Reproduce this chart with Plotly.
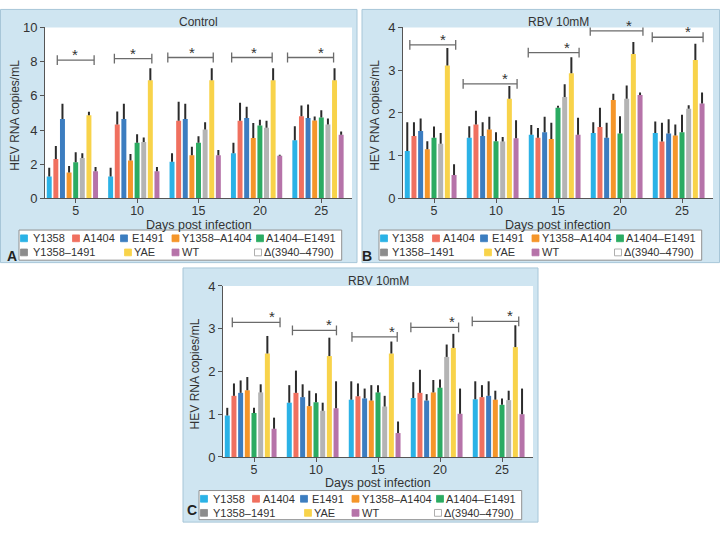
import plotly.graph_objects as go

# ---------------- data ----------------
days = ["5", "10", "15", "20", "25"]
series_names = ["Y1358", "A1404", "E1491", "Y1358–A1404", "A1404–E1491",
                "Y1358–1491", "YAE", "WT", "Δ(3940–4790)"]
series_colors = ["#2bb2e6", "#f0705f", "#3c7dc0", "#f5962a", "#2bab62",
                 "#b4b4b4", "#f8d34a", "#b673a9", "#ffffff"]
legend_marker_colors = ["#2bb2e6", "#f0705f", "#3c7dc0", "#f5962a", "#2bab62",
                        "#8c8c8c", "#f8d34a", "#b673a9", "#ffffff"]

# Panel A: Control
A_Y1358 = [1.29, 1.29, 2.14, 2.65, 3.41]
A_Y1358_err = [0.50, 0.50, 0.50, 0.60, 0.81]
A_A1404 = [2.31, 4.32, 4.55, 4.55, 4.81]
A_A1404_err = [0.76, 0.77, 1.10, 1.04, 0.63]
A_E1491 = [4.64, 4.64, 4.64, 4.70, 4.70]
A_E1491_err = [0.90, 0.90, 0.90, 0.66, 0.79]
A_Y1358_A1404 = [1.52, 2.22, 2.52, 3.54, 4.56]
A_Y1358_A1404_err = [0.38, 0.38, 0.50, 0.87, 0.23]
A_A1404_E1491 = [2.12, 3.26, 3.26, 4.26, 4.73]
A_A1404_E1491_err = [0.58, 0.50, 0.38, 0.34, 0.42]
A_Y1358_1491 = [2.37, 3.30, 4.03, 4.13, 4.32]
A_Y1358_1491_err = [0.28, 0.27, 0.42, 0.42, 0.36]
A_YAE = [4.87, 6.91, 6.91, 6.91, 6.91]
A_YAE_err = [0.20, 0.70, 0.70, 0.70, 0.70]
A_WT = [1.59, 1.59, 2.52, 2.50, 3.73]
A_WT_err = [0.25, 0.25, 0.32, 0.06, 0.19]
A_DELTA = [None, None, None, None, None]
A_sig_y = [8.09, 8.18, 8.24, 8.24, 8.24]
A_sig_left = [-0.30, -0.37, -0.50, -0.46, -0.55]
A_sig_right = [0.30, 0.24, 0.24, 0.20, 0.20]
A_sig_star = [-0.01, -0.07, -0.10, -0.10, 0.00]

# Panel B: RBV 10mM
B_Y1358 = [1.11, 1.42, 1.49, 1.53, 1.53]
B_Y1358_err = [0.67, 0.27, 0.23, 0.25, 0.27]
B_A1404 = [1.46, 1.73, 1.42, 1.67, 1.33]
B_A1404_err = [0.32, 0.32, 0.23, 0.45, 0.44]
B_E1491 = [1.58, 1.46, 1.55, 1.42, 1.52]
B_E1491_err = [0.29, 0.32, 0.36, 0.35, 0.33]
B_Y1358_A1404 = [1.15, 1.61, 1.39, 2.30, 1.47]
B_Y1358_A1404_err = [0.19, 0.30, 0.38, 0.15, 0.26]
B_A1404_E1491 = [1.42, 1.34, 2.12, 1.52, 1.55]
B_A1404_E1491_err = [0.26, 0.21, 0.05, 0.40, 0.41]
B_Y1358_1491 = [1.28, 1.33, 2.37, 2.33, 2.10]
B_Y1358_1491_err = [0.25, 0.11, 0.30, 0.31, 0.08]
B_YAE = [3.11, 2.33, 2.93, 3.38, 3.24]
B_YAE_err = [0.41, 0.30, 0.37, 0.28, 0.38]
B_WT = [0.55, 1.41, 1.49, 2.42, 2.22]
B_WT_err = [0.25, 0.42, 0.40, 0.06, 0.26]
B_DELTA = [None, None, None, None, None]
B_sig_y = [3.59, 2.68, 3.41, 3.92, 3.77]
B_sig_left = [-0.39, -0.53, -0.48, -0.48, -0.48]
B_sig_right = [0.35, 0.34, 0.34, 0.37, 0.34]
B_sig_star = [0.14, 0.15, 0.15, 0.15, 0.10]

# Panel C: RBV 10mM
C_Y1358 = [0.97, 1.27, 1.34, 1.38, 1.35]
C_Y1358_err = [0.18, 0.41, 0.43, 0.37, 0.42]
C_A1404 = [1.43, 1.50, 1.42, 1.50, 1.40]
C_A1404_err = [0.29, 0.52, 0.30, 0.54, 0.28]
C_E1491 = [1.50, 1.40, 1.37, 1.32, 1.43]
C_E1491_err = [0.29, 0.30, 0.23, 0.15, 0.34]
C_Y1358_A1404 = [1.56, 1.19, 1.32, 1.51, 1.34]
C_Y1358_A1404_err = [0.31, 0.36, 0.36, 0.29, 0.21]
C_A1404_E1491 = [1.03, 1.28, 1.51, 1.62, 1.22]
C_A1404_E1491_err = [0.12, 0.21, 0.17, 0.19, 0.15]
C_Y1358_1491 = [1.51, 1.08, 1.18, 2.34, 1.33]
C_Y1358_1491_err = [0.19, 0.19, 0.25, 0.29, 0.22]
C_YAE = [2.42, 2.36, 2.42, 2.55, 2.57]
C_YAE_err = [0.41, 0.43, 0.28, 0.33, 0.51]
C_WT = [0.66, 1.14, 0.56, 1.01, 1.00]
C_WT_err = [0.26, 0.63, 0.27, 0.59, 0.60]
C_DELTA = [None, None, None, None, None]
C_sig_y = [3.15, 2.96, 2.81, 3.03, 3.17]
C_sig_left = [-0.35, -0.38, -0.42, -0.47, -0.48]
C_sig_right = [0.42, 0.33, 0.31, 0.30, 0.27]
C_sig_star = [0.29, 0.21, 0.23, 0.19, 0.13]

panel_titles = ["Control", "RBV 10mM", "RBV 10mM"]
panel_letters = ["A", "B", "C"]
y_ranges = [[0, 10], [0, 4], [0, 4]]
y_dticks = [2, 1, 1]
y_title = "HEV RNA copies/mL"
x_title = "Days post infection"

# ---------------- layout geometry (pixels) ----------------
W, H = 720, 534
FONT = "Liberation Sans, Arial, sans-serif"
TXT = "#333333"


def fx(x):
    return x / W


def fy(y):
    return 1 - y / H


panels = [
    dict(box=(0.5, 2.5, 357, 263), plot=(45, 21, 352, 197), legend=(19, 229.5, 341.7, 260.5),
         letter=(11.5, 256), ytitle_x=15, xtitle_y=224, title_y=15,
         ax=("x", "y"),
         vals=[A_Y1358, A_A1404, A_E1491, A_Y1358_A1404, A_A1404_E1491, A_Y1358_1491, A_YAE, A_WT, A_DELTA],
         errs=[A_Y1358_err, A_A1404_err, A_E1491_err, A_Y1358_A1404_err, A_A1404_E1491_err,
               A_Y1358_1491_err, A_YAE_err, A_WT_err, None],
         sig=(A_sig_y, A_sig_left, A_sig_right, A_sig_star)),
    dict(box=(362, 2.5, 719.5, 263), plot=(403, 21, 713, 197), legend=(379, 229.5, 701.7, 260.5),
         letter=(367, 256), ytitle_x=375, xtitle_y=224, title_y=15,
         ax=("x2", "y2"),
         vals=[B_Y1358, B_A1404, B_E1491, B_Y1358_A1404, B_A1404_E1491, B_Y1358_1491, B_YAE, B_WT, B_DELTA],
         errs=[B_Y1358_err, B_A1404_err, B_E1491_err, B_Y1358_A1404_err, B_A1404_E1491_err,
               B_Y1358_1491_err, B_YAE_err, B_WT_err, None],
         sig=(B_sig_y, B_sig_left, B_sig_right, B_sig_star)),
    dict(box=(183, 268.5, 538, 530), plot=(223, 287, 533, 463), legend=(199, 497.5, 521.7, 527.5),
         letter=(191.5, 518), ytitle_x=195, xtitle_y=490, title_y=281.5,
         ax=("x3", "y3"),
         vals=[C_Y1358, C_A1404, C_E1491, C_Y1358_A1404, C_A1404_E1491, C_Y1358_1491, C_YAE, C_WT, C_DELTA],
         errs=[C_Y1358_err, C_A1404_err, C_E1491_err, C_Y1358_A1404_err, C_A1404_E1491_err,
               C_Y1358_1491_err, C_YAE_err, C_WT_err, None],
         sig=(C_sig_y, C_sig_left, C_sig_right, C_sig_star)),
]

# legend entry offsets (px from legend box left / top): (row, marker dx, text dx)
legend_slots = [(0, 5, 12.5), (0, 57, 62.5), (0, 105, 111.5), (0, 156.5, 161.5), (0, 241, 246),
                (1, 5, 12.5), (1, 109, 114), (1, 156.5, 161.5), (1, 239, 244)]
row_dy = [8.5, 23]

fig = go.Figure()
shapes = []
annotations = []
layout_axes = {}

xpos = list(range(len(days)))

for p_i, p in enumerate(panels):
    xa, ya = p["ax"]
    bx0, by0, bx1, by1 = p["box"]
    px0, py0, px1, py1 = p["plot"]
    # panel background + plot area
    shapes.append(dict(type="rect", xref="paper", yref="paper", x0=fx(bx0), x1=fx(bx1), y0=fy(by1), y1=fy(by0),
                       fillcolor="#cfe5f1", line=dict(color="#a7c6d8", width=1), layer="below"))
    shapes.append(dict(type="rect", xref="paper", yref="paper", x0=fx(px0), x1=fx(px1), y0=fy(py1), y1=fy(py0),
                       fillcolor="#ffffff", line=dict(width=0), layer="below"))
    # bars
    for s_i, name in enumerate(series_names):
        err = p["errs"][s_i]
        tr = go.Bar(x=xpos, y=p["vals"][s_i], name=name, xaxis=xa, yaxis=ya, showlegend=False,
                    marker=dict(color=series_colors[s_i], line=dict(width=0)))
        if err is not None:
            tr.error_y = dict(type="data", array=err, arrayminus=[0] * len(err), symmetric=False,
                              color="#2b2b2b", thickness=2, width=0)
        fig.add_trace(tr)
    # significance brackets
    sy, sl, sr, ss = p["sig"]
    bxs, bys = [], []
    for i in range(len(days)):
        bxs += [i + sl[i], i + sr[i], None]
        bys += [sy[i], sy[i], None]
        annotations.append(dict(x=i + ss[i], y=sy[i], xref=xa, yref=ya, text="*", showarrow=False,
                                yanchor="bottom", yshift=-5, font=dict(size=15, color=TXT, family=FONT)))
    fig.add_trace(go.Scatter(x=bxs, y=bys, xaxis=xa, yaxis=ya, mode="lines+markers", showlegend=False,
                             hoverinfo="skip",
                             line=dict(color="#6b6b6b", width=1.3),
                             marker=dict(symbol="line-ns-open", size=7, color="#6b6b6b",
                                         line=dict(color="#6b6b6b", width=1.3))))
    # axes
    suffix = "" if p_i == 0 else str(p_i + 1)
    layout_axes["xaxis" + suffix] = dict(domain=[fx(px0), fx(px1)], anchor=ya, range=[-0.5, 4.5],
                                         tickvals=xpos, ticktext=days, ticks="outside", ticklen=4,
                                         ticklabelstandoff=-3,
                                         tickcolor="#555", showline=True, linecolor="#555", linewidth=1,
                                         showgrid=False, zeroline=False,
                                         tickfont=dict(size=12.5, color=TXT, family=FONT), fixedrange=True)
    layout_axes["yaxis" + suffix] = dict(domain=[fy(py1), fy(py0)], anchor=xa, range=y_ranges[p_i],
                                         dtick=y_dticks[p_i], ticks="outside", ticklen=4, tickcolor="#555",
                                         showline=True, linecolor="#555", linewidth=1, showgrid=False,
                                         zeroline=False, tickfont=dict(size=13, color=TXT, family=FONT),
                                         fixedrange=True)
    # titles
    annotations.append(dict(x=fx((px0 + px1) / 2), y=fy(p["title_y"]), xref="paper", yref="paper",
                            text=panel_titles[p_i], showarrow=False, xanchor="center", yanchor="middle",
                            font=dict(size=12, color=TXT, family=FONT)))
    annotations.append(dict(x=fx((px0 + px1) / 2), y=fy(p["xtitle_y"]), xref="paper", yref="paper",
                            text=x_title, showarrow=False, xanchor="center", yanchor="middle", borderpad=0,
                            font=dict(size=12.5, color=TXT, family=FONT)))
    annotations.append(dict(x=fx(p["ytitle_x"]), y=fy((py0 + py1) / 2 + 3), xref="paper", yref="paper",
                            text=y_title, showarrow=False, xanchor="center", yanchor="middle", textangle=-90,
                            font=dict(size=12, color=TXT, family=FONT)))
    annotations.append(dict(x=fx(p["letter"][0]), y=fy(p["letter"][1]), xref="paper", yref="paper",
                            text="<b>" + panel_letters[p_i] + "</b>", showarrow=False, xanchor="center",
                            yanchor="middle", font=dict(size=14, color="#222", family=FONT)))
    # legend box
    lx0, ly0, lx1, ly1 = p["legend"]
    shapes.append(dict(type="rect", xref="paper", yref="paper", x0=fx(lx0), x1=fx(lx1), y0=fy(ly1), y1=fy(ly0),
                       fillcolor="#ffffff", line=dict(color="#8f8f8f", width=1), layer="below"))
    for s_i, (row, mdx, tdx) in enumerate(legend_slots):
        cy = ly0 + row_dy[row]
        mx = lx0 + mdx
        shapes.append(dict(type="rect", xref="paper", yref="paper", x0=fx(mx - 3.5), x1=fx(mx + 3.5),
                           y0=fy(cy + 3.5), y1=fy(cy - 3.5), fillcolor=legend_marker_colors[s_i],
                           line=dict(color="#9a9a9a" if s_i == 8 else legend_marker_colors[s_i], width=0.8),
                           layer="above"))
        annotations.append(dict(x=fx(lx0 + tdx), y=fy(cy), xref="paper", yref="paper", text=series_names[s_i],
                                showarrow=False, xanchor="left", yanchor="middle", borderpad=0,
                                font=dict(size=11, color=TXT, family=FONT)))

fig.update_layout(
    width=W, height=H, margin=dict(l=0, r=0, t=0, b=0),
    paper_bgcolor="#ffffff", plot_bgcolor="rgba(0,0,0,0)",
    barmode="group", bargap=0.03, bargroupgap=0.25,
    showlegend=False, shapes=shapes, annotations=annotations,
    font=dict(family=FONT, color=TXT),
    **layout_axes,
)

fig.write_html("out.html", config={"displayModeBar": False},
               post_script="document.body.style.margin='0';document.body.style.overflow='hidden';")
